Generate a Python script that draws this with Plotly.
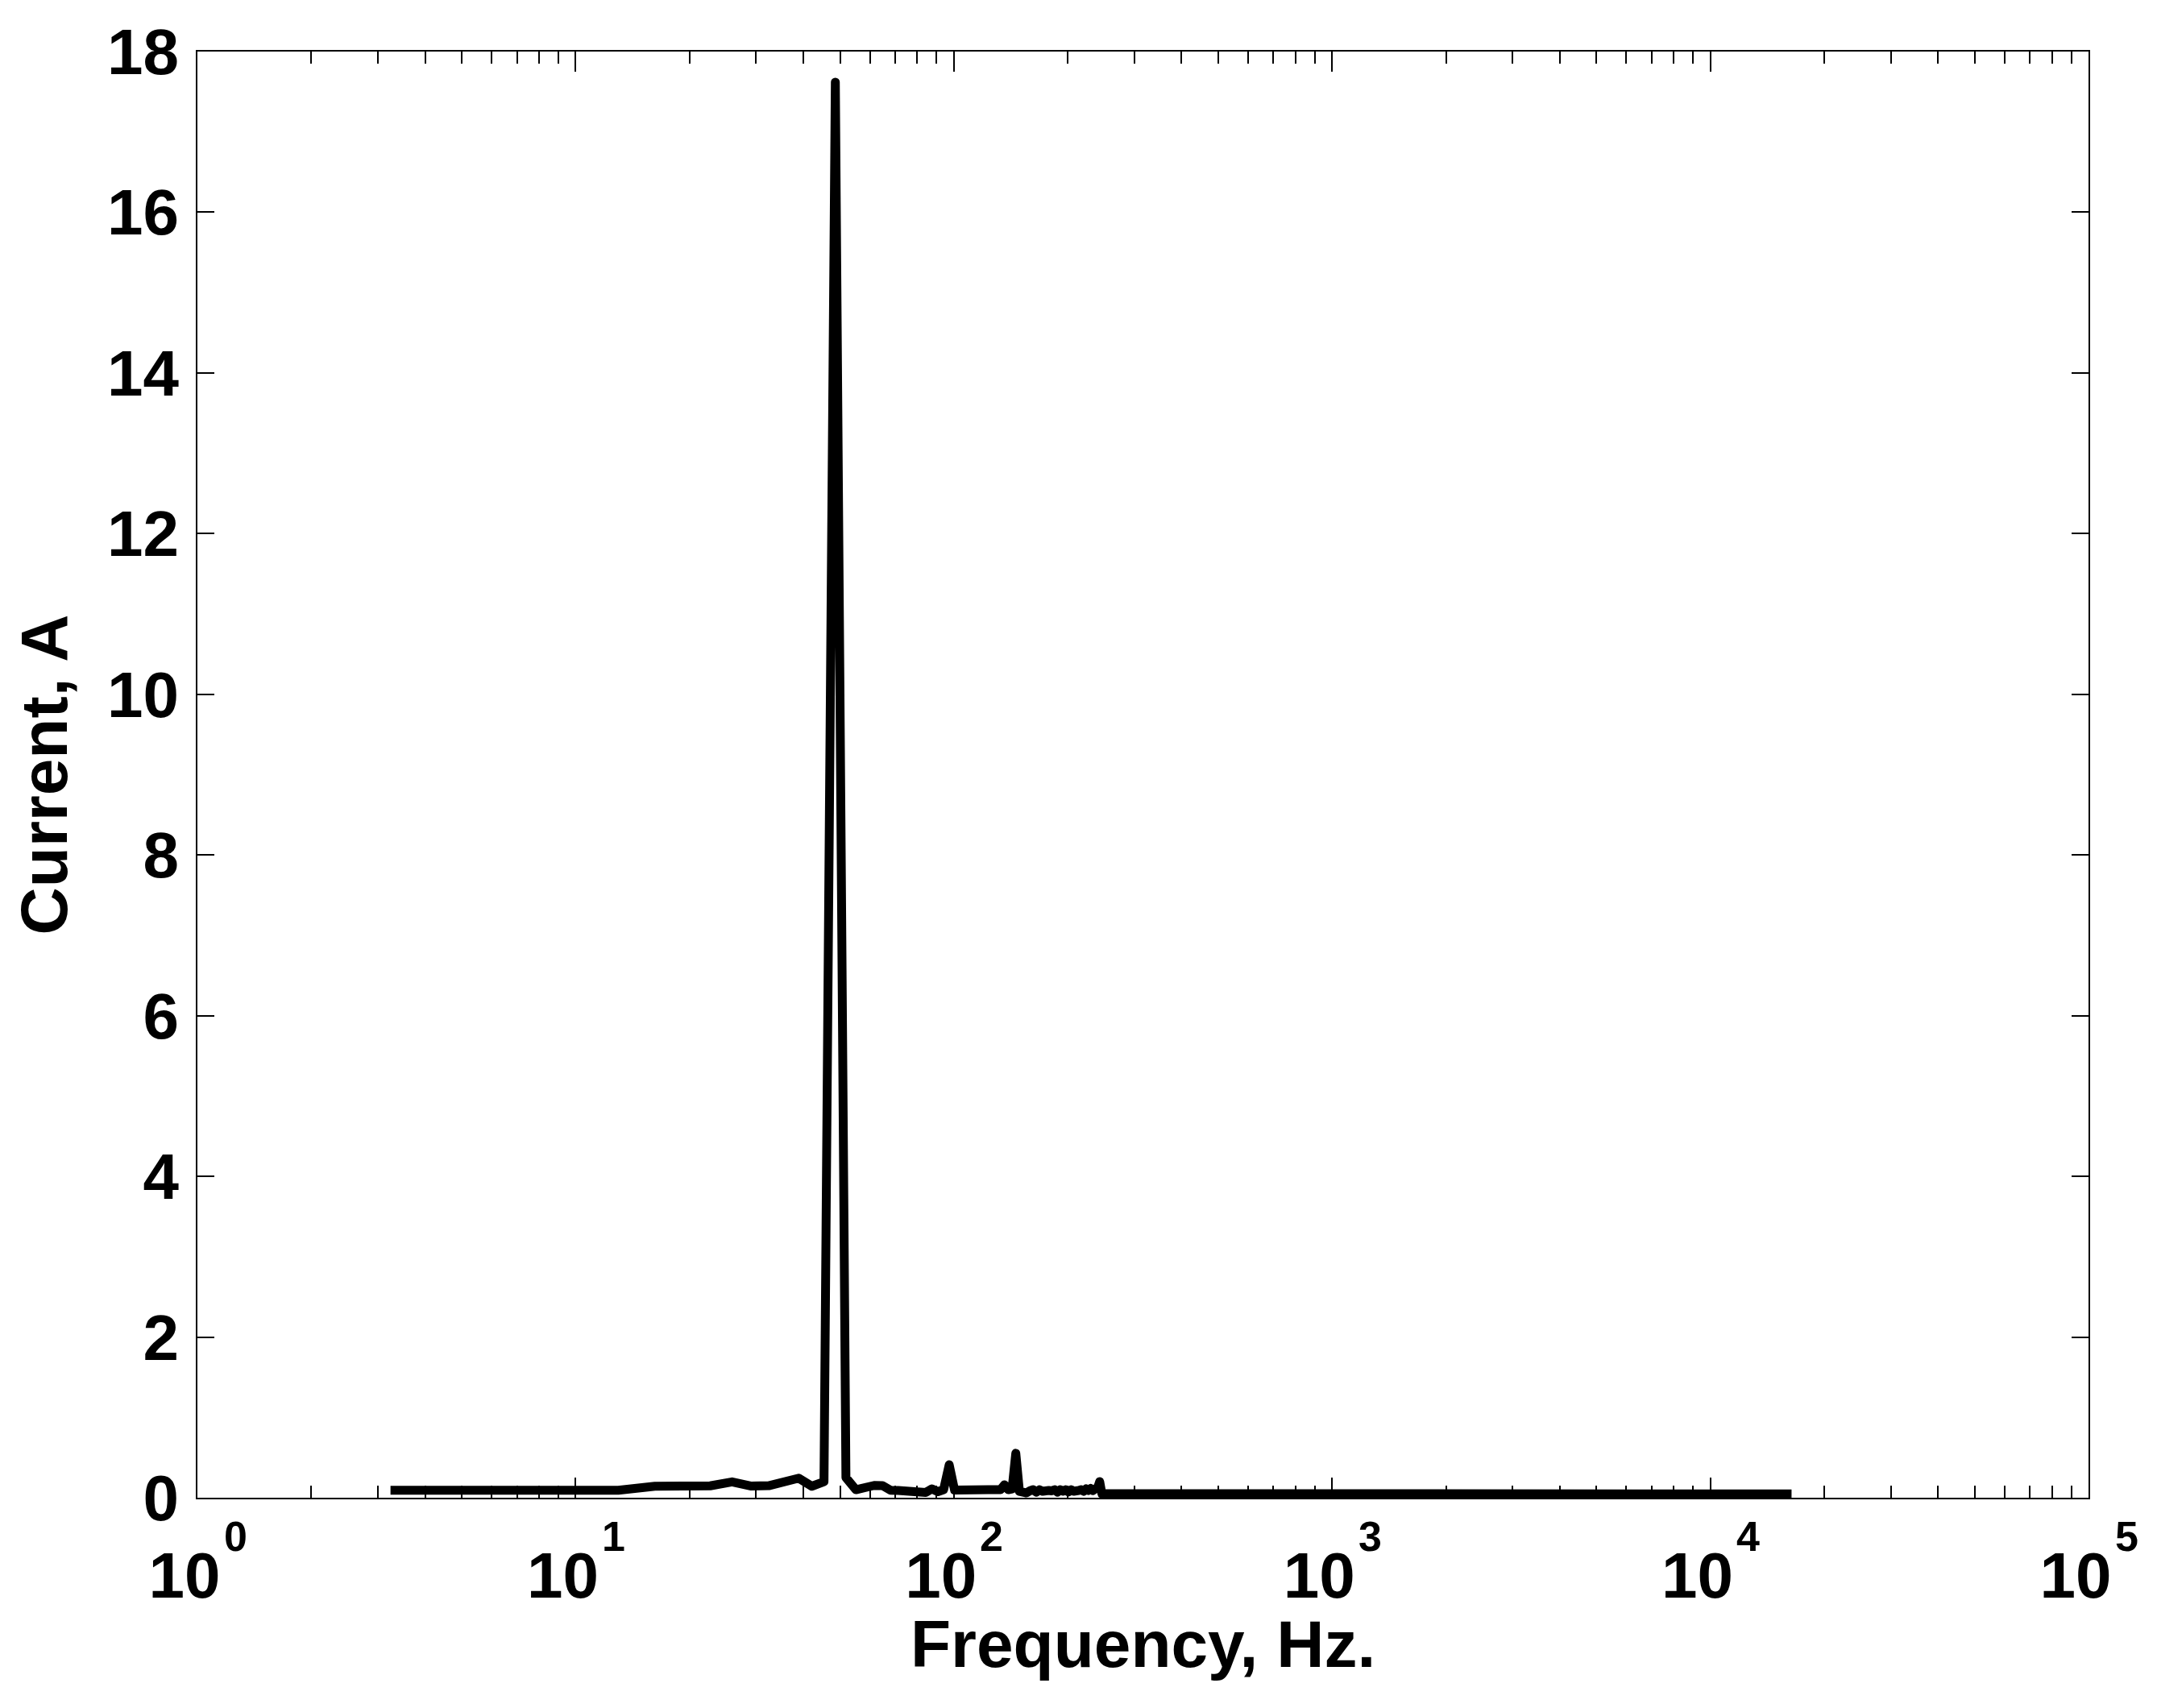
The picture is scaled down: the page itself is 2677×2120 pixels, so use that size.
import plotly.graph_objects as go

# Frequency bins (Hz) and current amplitude (A)
freq_hz = [3.24, 6.48, 9.72, 12.96, 16.20, 19.44, 22.68, 25.92, 29.16, 32.40,
           35.64, 38.88, 42.12, 45.36, 48.60, 51.84, 55.08, 58.32, 61.56, 64.80,
           68.04, 71.28, 74.52, 77.76, 81.00, 84.24, 87.48, 90.72, 93.96, 97.20,
           100.44, 103.68, 106.92, 110.16, 113.40, 116.64, 119.88, 123.12, 126.36, 129.60,
           132.84, 136.08, 139.32, 142.56, 145.80, 149.04, 152.28, 155.52, 158.76, 162.00,
           165.24, 168.48, 171.72, 174.96, 178.20, 181.44, 184.68, 187.92, 191.16, 194.40,
           197.64, 200.88, 204.12, 207.36, 210.60, 213.84, 217.08, 220.32, 223.56, 226.80,
           230.04, 233.28, 236.52, 239.76, 243.00, 246.24, 16400.0]
current_a = [0.093, 0.093, 0.093, 0.093, 0.143, 0.150, 0.148, 0.197, 0.145, 0.150,
             0.190, 0.243, 0.143, 0.200, 17.62, 0.250, 0.100, 0.135, 0.153, 0.150,
             0.093, 0.090, 0.090, 0.090, 0.090, 0.065, 0.110, 0.075, 0.100, 0.410,
             0.095, 0.100, 0.100, 0.100, 0.100, 0.100, 0.100, 0.100, 0.100, 0.100,
             0.100, 0.160, 0.100, 0.110, 0.553, 0.080, 0.060, 0.060, 0.085, 0.100,
             0.070, 0.100, 0.080, 0.100, 0.090, 0.085, 0.100, 0.070, 0.100, 0.080,
             0.100, 0.070, 0.100, 0.080, 0.100, 0.090, 0.100, 0.080, 0.110, 0.090,
             0.115, 0.090, 0.110, 0.120, 0.200, 0.050, 0.048]

x_tick_vals = [1, 10, 100, 1000, 10000, 100000]
x_tick_base = ["10", "10", "10", "10", "10", "10"]
x_exponents = ["0", "1", "2", "3", "4", "5"]
x_minor_vals = [m * d for d in [1, 10, 100, 1000, 10000] for m in range(2, 10)]
y_tick_vals = [0, 2, 4, 6, 8, 10, 12, 14, 16, 18]

FONT = "Liberation Sans, Arial, Helvetica, sans-serif"

fig = go.Figure()
fig.add_trace(go.Scatter(x=freq_hz, y=current_a, mode="lines",
                         line=dict(color="black", width=11), showlegend=False,
                         hoverinfo="skip"))

fig.update_xaxes(type="log", range=[0, 5],
                 tickvals=x_tick_vals, ticktext=x_tick_base,
                 ticks="inside", ticklen=25, tickwidth=2, tickcolor="black",
                 showline=True, linewidth=2, linecolor="black", mirror="ticks",
                 showgrid=False, zeroline=False,
                 tickfont=dict(family=FONT, size=80, color="black", weight="bold"),
                 ticklabelstandoff=26, ticklabelshift=-16,
                 minor=dict(tickvals=x_minor_vals, ticks="inside", ticklen=15,
                            tickwidth=2, tickcolor="black", showgrid=False))
fig.update_yaxes(range=[0, 18], tickvals=y_tick_vals,
                 ticks="inside", ticklen=21, tickwidth=2, tickcolor="black",
                 showline=True, linewidth=2, linecolor="black", mirror="ticks",
                 showgrid=False, zeroline=False,
                 tickfont=dict(family=FONT, size=80, color="black", weight="bold"),
                 ticklabelstandoff=5)

# exponents of the power-of-ten tick labels, placed at each tick through the x scale
for tv, ex in zip(x_tick_vals, x_exponents):
    fig.add_annotation(text=ex, xref="x", yref="paper",
                       x=len(str(tv)) - 1, y=0, xshift=47, yshift=-48,
                       xanchor="center", yanchor="middle", showarrow=False,
                       font=dict(family=FONT, size=52, color="black", weight="bold"))

fig.add_annotation(text="Frequency, Hz.", xref="paper", yref="paper",
                   x=0.5, y=-0.101, xanchor="center", yanchor="middle",
                   showarrow=False,
                   font=dict(family=FONT, size=82, color="black", weight="bold"))
fig.add_annotation(text="Current, A", xref="paper", yref="paper",
                   x=-0.081, y=0.5, xanchor="center", yanchor="middle",
                   textangle=-90, showarrow=False,
                   font=dict(family=FONT, size=82, color="black", weight="bold"))

# page body has an 8px margin; compensate so the plot area lands where the reference's is
fig.update_layout(width=2669, height=2104,
                  margin=dict(l=237, r=85, t=52, b=253),
                  paper_bgcolor="white", plot_bgcolor="white")

fig.write_html("out.html",
               post_script="document.querySelectorAll('.scatterlayer path.js-line').forEach(function(p){p.style.strokeLinejoin='round';});")
